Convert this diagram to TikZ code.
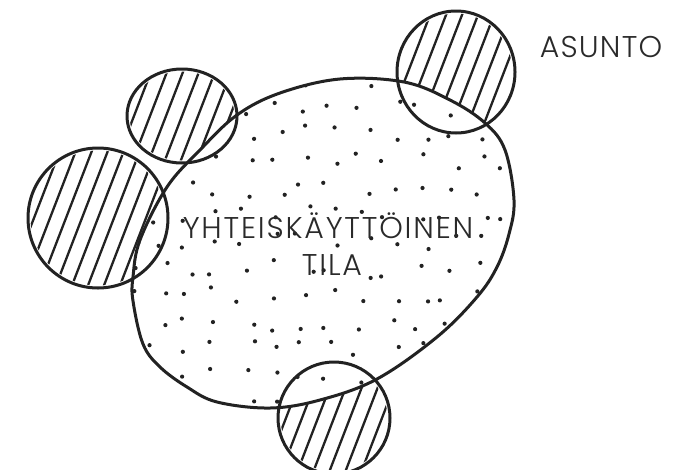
\documentclass[tikz,border=0pt]{standalone}
\usepackage{fontspec}
\setmainfont{Poppins}[UprightFont=* Light]
\begin{document}
\begin{tikzpicture}[x=1pt,y=-1pt,line cap=round,line join=round]
\definecolor{ink}{HTML}{222222}
\definecolor{txt}{HTML}{2a2a2a}
\tikzset{
  outline/.style={draw=ink,line width=3pt},
  hatchline/.style={draw=ink,line width=2.3pt},
  dotmark/.style={fill=ink},
  label/.style={text=txt,inner sep=0pt,anchor=base}
}
\useasboundingbox (0,0) rectangle (677,469);
% hatching in the four small circles
\foreach \cx/\cy/\rx/\ry in {182/116/55/47, 98/218/70/70, 456/72/59/61, 334/418/56/56}{
  \begin{scope}
    \clip (\cx,\cy) ellipse ({\rx-2.5} and {\ry-2.5});
    \foreach \i in {-8,...,8}{
      \draw[hatchline] ({\cx+\i*16-0.36*90},{\cy+0.933*90}) -- ({\cx+\i*16+0.36*90},{\cy-0.933*90});
    }
  \end{scope}
}
% the common space
\path[save path=\blobpath] plot[smooth cycle,tension=0.6] coordinates {
 (237,115) (280,93) (340,79) (404,82) (450,100) (485,123) (505,150) (514,200)
 (509,234) (497,267) (477,297) (437,337) (377,379) (320,400) (270,408) (217,402)
 (187,387) (160,367) (143,344) (133,301) (133,277) (140,240) (167,187) (200,150)};
\fill[white,use path=\blobpath];
\begin{scope}
  \clip[use path=\blobpath];
  \pgfmathsetseed{4711}
  \foreach \gx in {0,...,13}{
    \foreach \gy in {0,...,12}{
      \pgfmathsetmacro{\px}{130+\gx*29+10*rand}
      \pgfmathsetmacro{\py}{80+\gy*27+9*rand}
      \fill[dotmark] (\px,\py) circle (2.1);
    }
  }
\end{scope}
\draw[outline,use path=\blobpath];
% outlines of the small circles
\draw[outline] (182,116) ellipse (55 and 47);
\draw[outline] (98,218) circle (70);
\draw[outline] (456,72) ellipse (59 and 61);
\draw[outline] (334,418) circle (56);
% labels
\node[label,font=\fontsize{30}{30}\selectfont\addfontfeature{LetterSpace=4}] (asunto) at (601,57) {ASUNTO};
\node[label,font=\fontsize{30}{30}\selectfont\addfontfeature{LetterSpace=6}] (yht) at (328,238) {YHTEISKÄYTTÖINEN};
\node[label,font=\fontsize{30}{30}\selectfont\addfontfeature{LetterSpace=6}] (tila) at (332,275) {TILA};
\end{tikzpicture}
\end{document}
